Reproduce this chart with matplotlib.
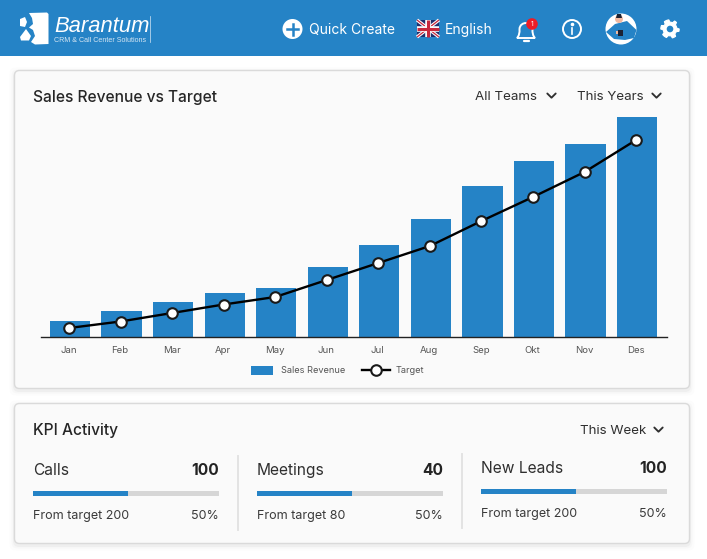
#!/usr/bin/env python3
"""Sales dashboard: revenue vs target chart plus KPI cards."""

import matplotlib

matplotlib.use("Agg")
import matplotlib.pyplot as plt
import numpy as np
from matplotlib.patches import Circle, FancyBboxPatch, PathPatch, Polygon, Rectangle
from matplotlib.path import Path

plt.rcParams["font.family"] = ["Inter", "DejaVu Sans"]

W, H = 707, 559
BLUE = "#2583c6"
DARK = "#2f2f2f"
GREY = "#555555"

months = ["Jan", "Feb", "Mar", "Apr", "May", "Jun", "Jul", "Aug", "Sep", "Okt", "Nov", "Des"]
revenue = [15.5, 25.5, 34.5, 43.5, 48.5, 69.5, 91.5, 117.5, 150.5, 175.5, 192.5, 219.5]
target = [8.5, 15, 23.5, 32, 39.5, 56.5, 73.5, 90.5, 115.5, 139.5, 164.5, 196.5]

kpi_names = ["Calls", "Meetings", "New Leads"]
kpi_values = [100, 40, 100]
kpi_targets = [200, 80, 200]


def card(ax, x0, y0, x1, y1):
    # soft shadow first, then the card itself
    for grow, alpha in [(5, 0.012), (3, 0.02), (1.5, 0.03)]:
        ax.add_patch(FancyBboxPatch((x0 - grow, y0 - grow + 2), x1 - x0 + 2 * grow, y1 - y0 + 2 * grow,
                                    boxstyle="round,pad=0,rounding_size=6", fc="black", ec="none", alpha=alpha))
    ax.add_patch(FancyBboxPatch((x0, y0), x1 - x0, y1 - y0, boxstyle="round,pad=0,rounding_size=5",
                                fc="#fafafa", ec="#dadada", lw=1))


def chevron(ax, x, y):
    ax.plot([x - 4.2, x, x + 4.2], [y - 2, y + 2.2, y - 2], color=DARK, lw=1.35,
            solid_capstyle="round", solid_joinstyle="round")


def label(ax, x, y, s, size, color=DARK, ha="left", weight="normal", **kw):
    ax.text(x, y, s, fontsize=size, color=color, ha=ha, va="baseline", fontweight=weight, **kw)


def draw_logo(ax):
    ax.add_patch(Polygon([(29, 13), (47, 12.5), (48.5, 14), (48.5, 44), (35, 44.5), (31, 42), (35, 36),
                          (33, 30), (29, 27.5), (33, 24), (32, 18)], fc="white", ec="none"))
    ax.add_patch(Polygon([(20, 19), (25, 17), (27, 22), (25, 27), (20, 26)], fc="white", ec="none"))
    ax.add_patch(Polygon([(26, 29), (31, 36), (29, 40.5), (21, 40.5), (20, 37)], fc="white", ec="none"))
    label(ax, 54, 32, "Barantum", 15.8, "white", family="Liberation Sans", style="italic")
    label(ax, 54, 41.5, "CRM & Call Center Solutions", 5.1, "#d5e6f3", family="Liberation Sans")
    ax.plot([149.5, 149.5], [16, 42], color="#d5e6f3", lw=0.5)


def draw_flag(ax, x0, y0, x1, y1):
    ax.add_patch(Rectangle((x0, y0), x1 - x0, y1 - y0, fc="#1f2f6d", ec="none"))
    for a, b in [((x0, y0), (x1, y1)), ((x0, y1), (x1, y0))]:
        ax.plot(*zip(a, b), color="white", lw=2.4, solid_capstyle="butt")
        ax.plot(*zip(a, b), color="#c8283c", lw=0.9, solid_capstyle="butt")
    xm, ym = (x0 + x1) / 2, (y0 + y1) / 2
    ax.plot([xm, xm], [y0, y1], color="white", lw=4, solid_capstyle="butt")
    ax.plot([x0, x1], [ym, ym], color="white", lw=4, solid_capstyle="butt")
    ax.plot([xm, xm], [y0, y1], color="#c8283c", lw=2.2, solid_capstyle="butt")
    ax.plot([x0, x1], [ym, ym], color="#c8283c", lw=2.2, solid_capstyle="butt")


def draw_bell(ax, x, y):
    verts = [(x - 9, y + 7), (x - 6, y + 4), (x - 6.5, y - 2), (x - 6, y - 10), (x + 6, y - 10), (x + 6.5, y - 2),
             (x + 6, y + 4), (x + 9, y + 7), (x - 9, y + 7)]
    codes = [Path.MOVETO, Path.CURVE3, Path.CURVE3, Path.CURVE4, Path.CURVE4, Path.CURVE4, Path.CURVE3,
             Path.CURVE3, Path.CLOSEPOLY]
    ax.add_patch(PathPatch(Path(verts, codes), fc="none", ec="white", lw=1.4))
    ax.plot([x - 2.5, x + 2.5], [y + 9.5, y + 9.5], color="white", lw=1.6, solid_capstyle="round")
    ax.add_patch(Circle((x + 6, y - 7), 5.8, fc="#ee1c25", ec="none"))
    ax.text(x + 6, y - 6.8, "1", fontsize=5, color="white", ha="center", va="center")


def draw_avatar(ax, x, y):
    ax.add_patch(Circle((x, y), 15.5, fc="white", ec="none"))
    ax.add_patch(Polygon([(x - 15, y + 3), (x - 6, y - 5), (x + 6, y - 8), (x + 15.5, y + 1), (x + 13, y + 9),
                          (x + 4, y + 11), (x - 7, y + 10)], fc=BLUE, ec="none"))
    ax.add_patch(Circle((x - 2, y - 10), 4, fc="#f0b8a0", ec="none"))
    ax.add_patch(Polygon([(x - 5, y - 11), (x - 4, y - 15), (x, y - 15), (x + 1, y - 11)], fc="#1c2233", ec="none"))
    ax.add_patch(Rectangle((x - 3, y + 0.5), 5, 6, fc="#1c2233", ec="none"))
    ax.add_patch(Rectangle((x - 5.5, y + 1.5), 2.5, 3, fc="#f0b8a0", ec="none"))


def draw_gear(ax, x, y):
    angles = np.linspace(0, 2 * np.pi, 48, endpoint=False)
    radii = np.where(((angles + np.pi / 24) % (np.pi / 3)) < np.pi / 6, 9.2, 6.8)
    ax.add_patch(Polygon(np.column_stack([x + radii * np.cos(angles), y + radii * np.sin(angles)]),
                         fc="white", ec="white", lw=0.8, joinstyle="round"))
    ax.add_patch(Circle((x, y), 3.3, fc=BLUE, ec="none"))


def draw_header(ax):
    ax.add_patch(Rectangle((0, 0), W, 56, fc=BLUE, ec="none"))
    draw_logo(ax)
    ax.add_patch(Circle((292.5, 29), 10, fc="white", ec="none"))
    ax.plot([287, 298], [29, 29], color=BLUE, lw=1.8)
    ax.plot([292.5, 292.5], [23.5, 34.5], color=BLUE, lw=1.8)
    label(ax, 309, 34, "Quick Create", 10, "white")
    draw_flag(ax, 417, 20, 439, 37)
    label(ax, 445, 34, "English", 10, "white")
    draw_bell(ax, 526, 31)
    ax.add_patch(Circle((572, 29), 9, fc="none", ec="white", lw=1.4))
    ax.plot([572, 572], [27.5, 34], color="white", lw=1.2)
    ax.plot([572], [24.3], "o", color="white", ms=1.6)
    draw_avatar(ax, 621, 29)
    draw_gear(ax, 670, 29)


fig = plt.figure(figsize=(W / 100, H / 100), dpi=100, facecolor="white")

# page layer in pixel coordinates, y down
page = fig.add_axes([0, 0, 1, 1])
page.set_xlim(0, W)
page.set_ylim(H, 0)
page.axis("off")

draw_header(page)
card(page, 14.5, 70.5, 689.5, 388.5)
card(page, 14.5, 403.5, 689.5, 543.5)

label(page, 33, 102, "Sales Revenue vs Target", 11.2, "#262626", weight="medium")
label(page, 475, 100.5, "All Teams", 9.6)
chevron(page, 551.5, 95.5)
label(page, 577, 100.5, "This Years", 9.6)
chevron(page, 656.5, 95.5)

label(page, 33, 435, "KPI Activity", 11.2, "#262626", weight="medium")
label(page, 580, 434, "This Week", 9.6)
chevron(page, 658.5, 429.5)

# KPI blocks
kpi_left = [33, 257, 481]
kpi_shift = [0, 0, -2]
for name, value, goal, x0, dy in zip(kpi_names, kpi_values, kpi_targets, kpi_left, kpi_shift):
    x1 = x0 + 186
    label(page, x0, 475 + dy, name, 11.2)
    label(page, x1, 475 + dy, str(value), 11.2, "#222222", ha="right", weight="bold")
    page.add_patch(Rectangle((x0, 491 + dy), x1 - x0, 5, fc="#d6d6d6", ec="none"))
    # the fill runs a touch past the half mark in the original
    page.add_patch(Rectangle((x0, 491 + dy), (x1 - x0) * value / goal + 2, 5, fc=BLUE, ec="none"))
    label(page, x0, 519 + dy, f"From target {goal}", 9, "#3a3a3a")
    label(page, x1, 519 + dy, f"{round(100 * value / goal)}%", 9, "#3a3a3a", ha="right")
page.plot([238, 238], [456, 530], color="#e3e3e3", lw=1.4)
page.plot([462, 462], [454, 528], color="#e3e3e3", lw=1.4)

# legend drawn by hand, the swatch and line handles differ in length
page.add_patch(Rectangle((251, 366), 22, 9, fc=BLUE, ec="none"))
label(page, 281, 373, "Sales Revenue", 6.6, GREY)
page.plot([362, 376, 390], [370, 370, 370], color="black", lw=1.7)
page.plot([376], [370], "o", ms=7.6, mfc="white", mec="#1a1a1a", mew=1.5)
label(page, 396, 373, "Target", 6.6, GREY)

# revenue chart: one y unit is one pixel
base_y, top_y = 336.5, 100
ax = fig.add_axes([41 / W, 1 - base_y / H, (667 - 41) / W, (base_y - top_y) / H], facecolor="none")
x = np.arange(len(months))
ax.bar(x, revenue, width=0.78, color=BLUE, zorder=2)
ax.plot(x - 0.02, target, color="black", lw=1.7, marker="o", ms=7.6, mfc="white", mec="#1a1a1a", mew=1.5, zorder=3)
ax.set_xlim(-0.5626, 11.58)
ax.set_ylim(0, base_y - top_y)
ax.set_xticks(x - 0.03, months, fontsize=6.9, color=GREY)
ax.set_yticks([])
ax.tick_params(axis="x", length=0, pad=6.5)
for side in ["top", "left", "right"]:
    ax.spines[side].set_visible(False)
ax.spines["bottom"].set_color("#222222")
ax.spines["bottom"].set_linewidth(1)

fig.savefig("out.png", dpi=100)
plt.close(fig)
